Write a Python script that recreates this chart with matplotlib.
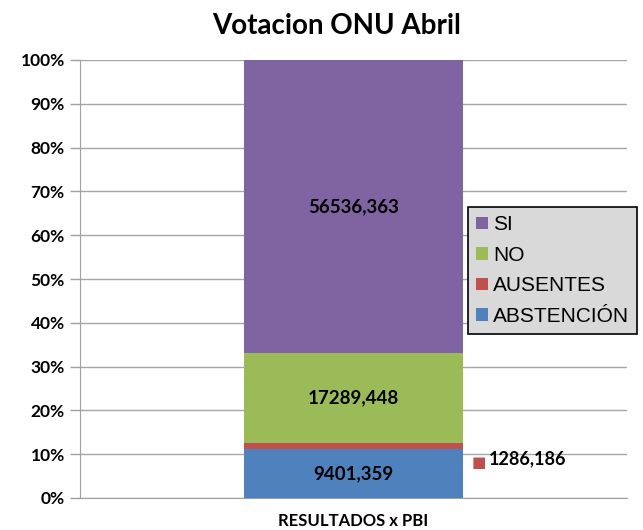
import numpy as np
import matplotlib.pyplot as plt
from matplotlib.ticker import PercentFormatter
from matplotlib.font_manager import FontProperties

# datos
categoria = ["RESULTADOS x PBI"]
series = ["ABSTENCIÓN", "AUSENTES", "NO", "SI"]
valores = [9401.359, 1286.186, 17289.448, 56536.363]
etiquetas = ["9401,359", "1286,186", "17289,448", "56536,363"]
colores = ["#4F81BD", "#C0504D", "#9BBB59", "#8064A2"]

total = sum(valores)
pct = [v / total * 100 for v in valores]

fig = plt.figure(figsize=(6.43, 5.3), dpi=100)
ax = fig.add_axes([80/643, 32/530, 547/643, 438/530])

fuente = "Lato"
barras = []
base = 0
for nombre, p, c in zip(series, pct, colores):
    b = ax.bar(0, p, width=0.4, bottom=base, color=c, label=nombre, zorder=3)
    barras.append(b)
    base += p

# etiquetas de datos
base = 0
for i, (p, et) in enumerate(zip(pct, etiquetas)):
    if i == 1:
        ax.annotate("■", xy=(0.2, base + p / 2), xytext=(6, -12), textcoords="offset points",
                    color=colores[1], fontsize=11, va="center", ha="left", family="DejaVu Sans")
        ax.annotate(et, xy=(0.2, base + p / 2), xytext=(19, -9), textcoords="offset points",
                    fontsize=13, fontweight="bold", family=fuente, va="center", ha="left")
    else:
        ax.text(0, base + p / 2, et, ha="center", va="center", fontsize=13.5,
                fontweight="bold", family=fuente, zorder=4)
    base += p

ax.set_xlim(-0.5, 0.5)
ax.set_ylim(0, 100)
ax.set_yticks(np.arange(0, 101, 10))
ax.yaxis.set_major_formatter(PercentFormatter(decimals=0))
ax.set_xticks([0])
ax.set_xticklabels(categoria)
for lab in ax.get_yticklabels():
    lab.set_fontweight("bold")
    lab.set_family(fuente)
    lab.set_fontsize(12.5)
for lab in ax.get_xticklabels():
    lab.set_fontweight("bold")
    lab.set_family(fuente)
    lab.set_fontsize(12)
ax.tick_params(axis="x", length=0, pad=11)
ax.tick_params(axis="y", length=7, color="#a0a0a0", width=1, pad=4)

ax.grid(axis="y", color="#a6a6a6", linewidth=1, zorder=0)
for s in ["top", "right"]:
    ax.spines[s].set_visible(False)
ax.spines["left"].set_color("#a0a0a0")
ax.spines["bottom"].set_color("#a0a0a0")

fig.suptitle("Votacion ONU Abril", x=337/643, y=0.975, fontsize=20,
             fontweight="bold", family=fuente)

handles = [b.patches[0] for b in barras][::-1]
leg = fig.legend(handles, series[::-1], loc="upper left", bbox_to_anchor=(468/643, 1 - 207/530),
                 frameon=True, fancybox=False, edgecolor="black", facecolor="#d9d9d9",
                 framealpha=1, prop=FontProperties(family="Liberation Sans", size=15),
                 handlelength=0.55, handleheight=0.55, handletextpad=0.25,
                 labelspacing=0.55, borderpad=0.4, borderaxespad=0)
leg.get_frame().set_linewidth(1.2)

fig.savefig("out.png", dpi=100)
